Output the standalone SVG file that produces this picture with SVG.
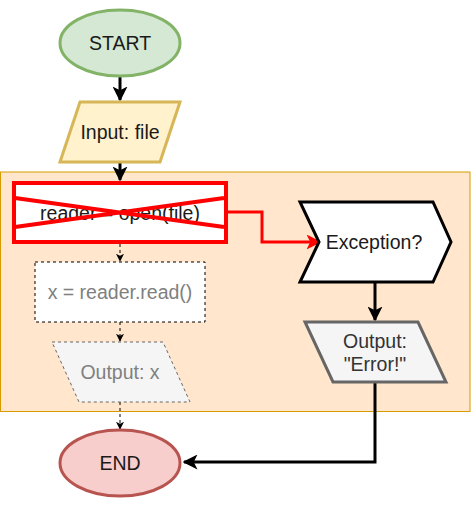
<svg xmlns="http://www.w3.org/2000/svg" width="471" height="505" viewBox="0 0 471 505">
<defs>
<style>
text{font-family:"Liberation Sans",Arial,sans-serif;font-size:19.5px;text-anchor:middle;dominant-baseline:central;fill:#1a1a1a}
.gray{fill:#808080}
.dk{fill:#333333}
.thick{fill:none;stroke:#000;stroke-width:3}
.dash{fill:none;stroke:#000;stroke-width:1;stroke-dasharray:3 3}
</style>
<marker id="ab" viewBox="0 0 10 10" refX="9" refY="5" markerWidth="5" markerHeight="5" markerUnits="strokeWidth" orient="auto"><path d="M0,0 L10,5 L0,10 L2.5,5 Z" fill="#000"/></marker>
<marker id="ar" viewBox="0 0 10 10" refX="9" refY="5" markerWidth="5" markerHeight="5" markerUnits="strokeWidth" orient="auto"><path d="M0,0 L10,5 L0,10 L2.5,5 Z" fill="#ff0000"/></marker>
<marker id="as" viewBox="0 0 10 10" refX="9" refY="5" markerWidth="8" markerHeight="8" markerUnits="strokeWidth" orient="auto"><path d="M0,0 L10,5 L0,10 L2.5,5 Z" fill="#000"/></marker>
</defs>
<rect id="group" x="0.5" y="172" width="469.5" height="239.5" fill="#ffe6cc" stroke="#d79b00" stroke-width="1"/>
<g id="connectors">
<path class="thick" d="M120,77 V100" marker-end="url(#ab)"/>
<path class="thick" d="M120,162 V180" marker-end="url(#ab)"/>
<path d="M227,212 H262 V242 H320" fill="none" stroke="#ff0000" stroke-width="3" marker-end="url(#ar)"/>
<path class="thick" d="M375,283 V320" marker-end="url(#ab)"/>
<path class="thick" d="M375,382 V462 H184" marker-end="url(#ab)"/>
<path class="dash" d="M120,244 V261" marker-end="url(#as)"/>
<path class="dash" d="M120,322 V341" marker-end="url(#as)"/>
<path class="dash" d="M120,402 V429" marker-end="url(#as)"/>
</g>
<g id="start">
<ellipse cx="120" cy="43" rx="60" ry="33" fill="#d5e8d4" stroke="#82b366" stroke-width="3"/>
<text x="120" y="43">START</text>
</g>
<g id="input">
<polygon points="80,102 180,102 160,162 60,162" fill="#fff2cc" stroke="#d6b656" stroke-width="3"/>
<text x="120" y="132">Input: file</text>
</g>
<g id="reader">
<rect x="14" y="183" width="212" height="59" fill="#fff" stroke="#ff0000" stroke-width="4"/>
<text x="120" y="213">reader = open(file)</text>
<path d="M15,198 L224,227 M15,227 L224,198" stroke="#ff0000" stroke-width="4" fill="none"/>
</g>
<g id="exception">
<polygon points="300,202 433,202 451,242 433,282 300,282 319,242" fill="#fff" stroke="#000" stroke-width="3"/>
<text x="374" y="242">Exception?</text>
</g>
<g id="error">
<polygon points="305,322 418,322 446,382 333,382" fill="#f5f5f5" stroke="#666666" stroke-width="3"/>
<text class="dk" x="375" y="341">Output:</text>
<text class="dk" x="375" y="364">"Error!"</text>
</g>
<g id="read">
<rect x="35" y="262" width="170" height="60" fill="#fff" stroke="#000" stroke-width="1" stroke-dasharray="3 3"/>
<text class="gray" x="120" y="292">x = reader.read()</text>
</g>
<g id="outx">
<polygon points="52,342 163,342 190,402 79,402" fill="#f5f5f5" stroke="#666666" stroke-width="1" stroke-dasharray="3 3"/>
<text class="gray" x="120" y="372">Output: x</text>
</g>
<g id="end">
<ellipse cx="120" cy="463" rx="60" ry="33" fill="#f8cecc" stroke="#b85450" stroke-width="3"/>
<text x="120" y="463">END</text>
</g>
</svg>
